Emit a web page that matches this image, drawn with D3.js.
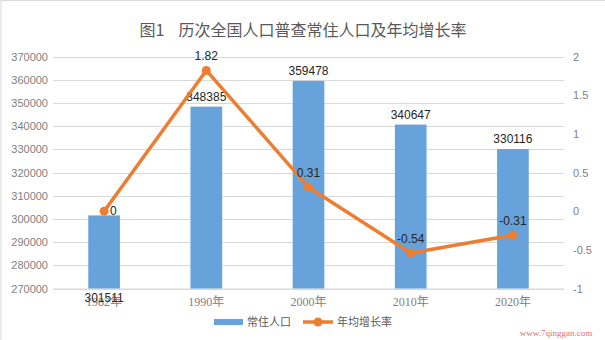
<!DOCTYPE html>
<html><head><meta charset="utf-8">
<script src="https://cdn.jsdelivr.net/npm/d3@7"></script>
<style>html,body{margin:0;padding:0;background:#fff;}svg{display:block;}</style>
</head><body>
<script>
const categories = ["1982年","1990年","2000年","2010年","2020年"];
const population = [301511, 348385, 359478, 340647, 330116];
const growthRate = [0, 1.82, 0.31, -0.54, -0.31];
const leftTicks = [270000,280000,290000,300000,310000,320000,330000,340000,350000,360000,370000];
const rightTicks = [-1,-0.5,0,0.5,1,1.5,2];
const titleText = "图1    历次全国人口普查常住人口及年均增长率";
const legendLabels = ["常住人口","年均增长率"];

(function(){
const W = 605, H = 340;
const barColor = "#67a3da", lineColor = "#ed7d31";
const svg = d3.select("body").append("svg").attr("width", W).attr("height", H);
svg.append("rect").attr("x",1).attr("y",0.5).attr("width",W).attr("height",H).attr("fill","#fff").attr("stroke","#d9d9d9");

const pLeft = 53, pRight = 564, pTop = 56.5, pBottom = 288.5;
const x = d3.scaleBand().domain(categories).range([pLeft, pRight]).paddingInner(0.69).paddingOuter(0.345);
const yL = d3.scaleLinear().domain([270000, 370000]).range([pBottom, pTop]);
const yR = d3.scaleLinear().domain([-1, 2]).range([pBottom, pTop]);

// gridlines
svg.append("g").selectAll("line").data(leftTicks).join("line")
  .attr("x1", pLeft).attr("x2", pRight)
  .attr("y1", d => Math.round(yL(d))+0.5).attr("y2", d => Math.round(yL(d))+0.5)
  .attr("stroke", "#d9d9d9").attr("stroke-width", 1);

// left axis
const gL = svg.append("g").attr("transform", `translate(${pLeft},0)`)
  .call(d3.axisLeft(yL).tickValues(leftTicks).tickSize(0).tickPadding(5).tickFormat(d3.format("d")));
gL.select(".domain").remove();
gL.selectAll("text").attr("fill","#7f7f7f").style("font-family","Liberation Sans, Arial, sans-serif").style("font-size","11px");

// right axis
const gR = svg.append("g").attr("transform", `translate(${pRight},0)`)
  .call(d3.axisRight(yR).tickValues(rightTicks).tickSize(0).tickPadding(9).tickFormat(d => String(d)));
gR.select(".domain").remove();
gR.selectAll("text").attr("fill","#7f7f7f").style("font-family","Liberation Sans, Arial, sans-serif").style("font-size","11px");

// bottom axis
const gB = svg.append("g").attr("transform", `translate(0,${pBottom})`)
  .call(d3.axisBottom(x).tickSize(0).tickPadding(9));
gB.select(".domain").attr("stroke","#d9d9d9");
gB.selectAll("text").attr("fill","#7f7f7f").style("font-family","Liberation Serif, 'Noto Sans CJK SC', serif").style("font-size","12px");

// bars
svg.append("g").selectAll("rect").data(population).join("rect")
  .attr("x", (d,i) => x(categories[i])).attr("width", x.bandwidth())
  .attr("y", d => yL(d)).attr("height", d => pBottom - yL(d))
  .attr("fill", barColor);

// bar labels
svg.append("g").selectAll("text").data(population).join("text")
  .attr("x", (d,i) => x(categories[i]) + x.bandwidth()/2)
  .attr("y", (d,i) => i === 0 ? 302 : yL(d) - 6)
  .attr("text-anchor","middle").attr("fill","#262626")
  .style("font-family","Liberation Sans, Arial, sans-serif").style("font-size","12px")
  .text(d => d);

// line
const cx = (d,i) => x(categories[i]) + x.bandwidth()/2;
const line = d3.line().x((d,i) => cx(d,i)).y(d => yR(d));
svg.append("path").datum(growthRate).attr("d", line)
  .attr("fill","none").attr("stroke",lineColor).attr("stroke-width",3.5).attr("stroke-linejoin","round");
svg.append("g").selectAll("circle").data(growthRate).join("circle")
  .attr("cx", cx).attr("cy", d => yR(d)).attr("r", 4.5).attr("fill",lineColor);

// line labels
svg.append("g").selectAll("text").data(growthRate).join("text")
  .attr("x", (d,i) => i === 0 ? cx(d,i) + 6 : cx(d,i))
  .attr("y", (d,i) => i === 0 ? yR(d) + 4 : yR(d) - 10)
  .attr("text-anchor", (d,i) => i === 0 ? "start" : "middle").attr("fill","#262626")
  .style("font-family","Liberation Sans, Arial, sans-serif").style("font-size","12px")
  .text(d => String(d));

// title
svg.append("text").attr("x", 303).attr("y", 36).attr("text-anchor","middle")
  .attr("fill","#595959").style("font-family","'Noto Sans CJK SC', sans-serif").style("font-size","16px")
  .style("white-space","pre")
  .text(titleText);

// legend
const lg = svg.append("g").style("font-family","'Noto Sans CJK SC', sans-serif").style("font-size","11px");
const lx = 214, ly = 322;
lg.append("rect").attr("x", lx).attr("y", ly-3).attr("width", 29).attr("height", 6).attr("fill",barColor);
lg.append("text").attr("x", lx+33).attr("y", ly+4).attr("fill","#595959").text(legendLabels[0]);
const l2 = lx + 33 + 44 + 12;
lg.append("line").attr("x1", l2).attr("x2", l2+30).attr("y1", ly).attr("y2", ly).attr("stroke",lineColor).attr("stroke-width",3.5);
lg.append("circle").attr("cx", l2+15).attr("cy", ly).attr("r", 4.5).attr("fill",lineColor);
lg.append("text").attr("x", l2+34).attr("y", ly+4).attr("fill","#595959").text(legendLabels[1]);

// watermark
svg.append("text").attr("x", 556).attr("y", 336).attr("text-anchor","middle")
  .attr("fill","#e07070").style("font-family","Liberation Serif, serif").style("font-size","9px")
  .text("www.7qinggan.com");
})();
</script>
</body></html>
